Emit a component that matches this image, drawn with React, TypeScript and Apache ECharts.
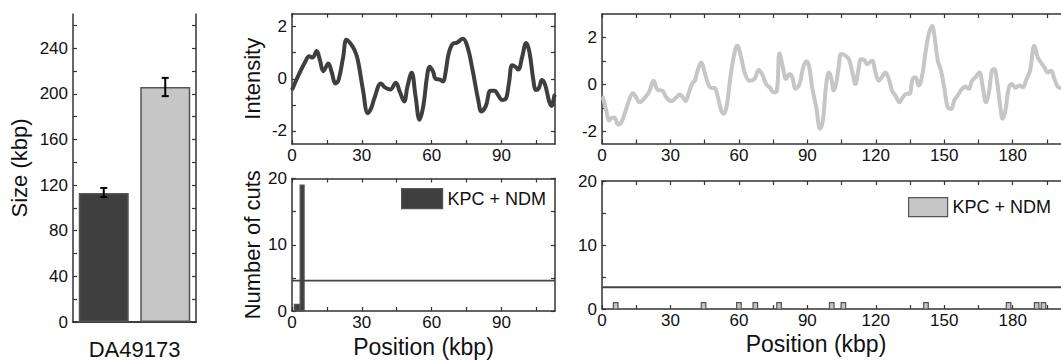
import React, { useEffect, useRef } from "react";
import * as echarts from "echarts";

// ---- data ----
const sizeCategories = ["KPC", "NDM"];
const sizeValues = [113, 206];
const sizeErrLow = [109.5, 198];
const sizeErrHigh = [117.5, 214];

const posA = [0, 2.8, 5.7, 7.4, 8.8, 10.6, 12, 13.5, 15.6, 17, 18.7, 20, 22, 23.4, 25.2, 26.9, 28.3, 30.5, 32.6, 34, 35.4, 38.2, 39.9, 42.2, 44.6, 46.3, 48.2, 49.6, 51.4, 53.1, 54.8, 56.4, 58.1, 59.2, 60.6, 61.6, 63.5, 64.9, 65.9, 67.3, 69.1, 70.8, 73.4, 75.4, 77.6, 80, 81.4, 83.3, 85.3, 87.1, 88.5, 90.4, 91.8, 93.2, 94.6, 96, 97.2, 98.9, 100.6, 102, 103.7, 104.8, 106, 107.4, 108.8, 110.5, 111.6, 112.7, 113];
const intensityA = [-0.43, 0.14, 0.65, 0.86, 0.81, 1.06, 0.71, 0.29, 0.58, 0.27, -0.18, -0.05, 0.84, 1.49, 1.34, 1.09, 0.71, -0.43, -1.32, -1.13, -0.75, -0.18, -0.33, -0.41, -0.15, -0.49, -0.87, -0.3, 0.23, -0.68, -1.57, -1.06, 0.14, 0.46, 0.27, 0.01, -0.03, -0.11, 0.2, 0.96, 1.34, 1.38, 1.53, 1.22, 0.33, -0.81, -1.25, -1.04, -0.46, -0.46, -0.62, -0.81, -0.78, -0.18, 0.52, 0.46, 0.35, 0.84, 1.37, 1.03, -0.05, -0.43, -0.37, -0.05, -0.24, -0.87, -1.04, -0.66, -0.6];

const posB = [0, 0.4, 1.9, 3.1, 4.5, 5.5, 7, 8.5, 9.9, 11.8, 13.6, 15, 16.5, 18.7, 20.6, 22.6, 24.5, 26.4, 28.2, 30.4, 32.6, 34, 35.2, 36.6, 38.1, 39.6, 40.7, 42, 43.5, 45, 46.4, 47.9, 49.3, 50.8, 52.3, 53.4, 54.7, 55.9, 57.4, 59.3, 61, 62.5, 64.7, 66.8, 68.7, 70.5, 71.9, 73.7, 75.2, 76.6, 77.8, 79.3, 80.7, 82.2, 83.4, 84.8, 86.6, 88, 89.5, 90.7, 92.1, 93.9, 95.6, 96.8, 98.3, 99.5, 100.4, 101.6, 102.6, 103.8, 104.8, 106.7, 108.2, 109.6, 111.1, 112.3, 113.6, 115, 116.2, 117.2, 118.4, 119.9, 121.3, 122.8, 124.2, 125.7, 127.1, 128.6, 130.4, 131.8, 133.6, 134.7, 136.2, 137.4, 138.8, 140.3, 141.7, 143.2, 144.7, 145.8, 147.2, 148.6, 150.1, 151.5, 153, 154.5, 155.9, 157.8, 159.3, 160.7, 162.2, 163.9, 165.4, 166.8, 168.3, 169.5, 170.9, 171.9, 173.1, 174.6, 175.6, 176.8, 178.3, 179.7, 181.2, 182.9, 184.4, 186.1, 187.6, 189.5, 191, 192.4, 193.9, 195.3, 196.8, 198.3, 199.7, 200.9, 202.5];
const intensityB = [-0.5, -0.54, -1.1, -1.52, -1.41, -1.41, -1.69, -1.59, -1.24, -0.68, -0.37, -0.54, -0.75, -0.56, -0.32, 0.17, -0.23, -0.25, -0.54, -0.7, -0.54, -0.42, -0.51, -0.7, -0.32, 0.06, 0.17, 0.62, 0.94, 0.52, 0.06, -0.14, -0.14, -0.54, -1.1, -1.24, -0.89, 0.03, 1.01, 1.65, 1.15, 0.52, 0.17, 0.24, 0.62, 0.38, 0.03, -0.14, -0.32, -0.28, 1.32, 0.73, 0.24, 0.45, 0.31, -0.18, 0.03, 0.66, 0.99, 0.8, -0.11, -0.96, -1.87, -1.52, 0.03, 0.52, 0.31, -0.25, 0.03, 0.8, 1.3, 1.23, 1.08, 0.59, 0.03, 0.59, 1.08, 1.04, 0.87, 0.94, 1.01, 0.52, 0.17, 0.34, 0.52, 0.24, -0.25, -0.46, -0.75, -0.54, -0.39, -0.39, 0.24, 0.31, -0.04, 0.38, 1.3, 2.14, 2.49, 2.0, 1.01, 0.59, -0.18, -0.96, -1.03, -0.65, -0.46, -0.18, -0.08, -0.18, 0.17, 0.34, 0.52, -0.04, -0.75, -0.39, 0.59, 0.66, 0.17, -0.96, -1.45, -1.1, -0.14, 0.03, -0.14, -0.04, -0.11, 0.24, 0.59, 1.65, 1.15, 0.94, 0.73, 0.52, 0.59, 0.24, -0.08, -0.14, -0.2];

// histogram bins: start, end, number of cuts
const cutsA = [[1, 3.5, 1], [3.5, 5.2, 19]];
const cutsB = [[5, 7, 1], [43.5, 45.5, 1], [59, 61, 1], [66.2, 68.2, 1], [76.6, 78.6, 1], [99.7, 101.7, 1], [104.8, 106.8, 1], [141, 143, 1], [177.2, 179.2, 1], [189.5, 191.5, 1], [192.5, 194.5, 1]];
const thresholdA = 4.6;
const thresholdB = 3.4;
const maxA = 113;
const maxB = 206;

const xLabelsA = [0, 30, 60, 90];
const xTicksA = [0, 15, 30, 45, 60, 75, 90, 105];
const xLabelsB = [0, 30, 60, 90, 120, 150, 180];
const xTicksB = [0, 15, 30, 45, 60, 75, 90, 105, 120, 135, 150, 165, 180, 195];
const intensityLabels = [-2, 0, 2];
const intensityTicks = [-2, -1, 0, 1, 2];
const cutsLabels = [0, 10, 20];
const cutsTicks = [0, 5, 10, 15, 20];
const sizeLabels = [0, 40, 80, 120, 160, 200, 240];
const sizeTicks = [0, 20, 40, 60, 80, 100, 120, 140, 160, 180, 200, 220, 240, 260];

const DARK = "#3f3f3f";
const LIGHT = "#c6c6c6";
const FRAME = "#333333";
const TEXT = "#111111";
const FONT = "Liberation Sans";

function valueX(grid: number, max: number, ticks: number[], labels: number[] | null, pos: string, name?: string, nameGap?: number, namePad?: number[]) {
  return {
    type: "value",
    gridIndex: grid,
    min: 0,
    max,
    position: pos,
    axisLine: { show: true, onZero: false, lineStyle: { color: FRAME, width: 1.5 } },
    axisTick: { show: true, inside: true, length: 4, customValues: ticks, lineStyle: { color: FRAME, width: 1.2 } },
    axisLabel: labels
      ? { show: true, customValues: labels, fontSize: 17, color: TEXT, margin: 3, fontFamily: FONT }
      : { show: false },
    splitLine: { show: false },
    name: name || "",
    nameLocation: "middle",
    nameGap: nameGap || 0,
    nameTextStyle: { fontSize: 23, color: TEXT, fontFamily: FONT, padding: namePad || 0 },
  };
}

function valueY(grid: number, min: number, max: number, ticks: number[], labels: number[] | null, pos: string, name?: string, nameGap?: number) {
  return {
    type: "value",
    gridIndex: grid,
    min,
    max,
    position: pos,
    axisLine: { show: true, onZero: false, lineStyle: { color: FRAME, width: 1.5 } },
    axisTick: { show: true, inside: true, length: 4, customValues: ticks, lineStyle: { color: FRAME, width: 1.2 } },
    axisLabel: labels
      ? { show: true, customValues: labels, fontSize: 17, color: TEXT, margin: 5, fontFamily: FONT }
      : { show: false },
    splitLine: { show: false },
    name: name || "",
    nameLocation: "middle",
    nameGap: nameGap || 0,
    nameTextStyle: { fontSize: 22, color: TEXT, fontFamily: FONT },
  };
}

function histRender(fill: string) {
  return (params: any, api: any) => {
    const p0 = api.coord([api.value(0), api.value(2)]);
    const p1 = api.coord([api.value(1), 0]);
    return {
      type: "rect",
      shape: { x: p0[0], y: p0[1], width: p1[0] - p0[0], height: p1[1] - p0[1] },
      style: { fill, stroke: "#555555", lineWidth: 1.2 },
    };
  };
}

export default function App() {
  const ref = useRef<HTMLDivElement>(null);
  useEffect(() => {
    document.body.style.margin = "0";
    const chart = echarts.init(ref.current!, null, { renderer: "svg" });
    const g = { outerBoundsMode: "none", containLabel: false };
    const option: any = {
      animation: false,
      backgroundColor: "#ffffff",
      textStyle: { fontFamily: FONT },
      grid: [
        { ...g, left: 73, top: 14, width: 123, height: 308 },
        { ...g, left: 292, top: 13.5, width: 263, height: 130.5 },
        { ...g, left: 602, top: 14, width: 470, height: 129.5 },
        { ...g, left: 292, top: 178.5, width: 263, height: 132.5 },
        { ...g, left: 602, top: 181, width: 470, height: 128 },
      ],
      legend: [
        {
          data: [{ name: "KPC + NDM", icon: "rect", itemStyle: { color: DARK, borderColor: "#555555", borderWidth: 1.2 } }],
          left: 401, top: 188, itemWidth: 41, itemHeight: 20, padding: 0, selectedMode: false,
          textStyle: { fontSize: 18, color: TEXT, fontFamily: FONT },
        },
        {
          data: [{ name: "KPC + NDM", icon: "rect", itemStyle: { color: LIGHT, borderColor: "#555555", borderWidth: 1.2 } }],
          left: 908, top: 197, itemWidth: 39, itemHeight: 19, padding: 0, selectedMode: false,
          textStyle: { fontSize: 18, color: TEXT, fontFamily: FONT },
        },
      ],
      xAxis: [
        {
          type: "category",
          gridIndex: 0,
          data: sizeCategories,
          position: "bottom",
          axisLine: { show: true, lineStyle: { color: FRAME, width: 1.5 } },
          axisTick: { show: true, inside: true, length: 4, alignWithLabel: true, lineStyle: { color: FRAME, width: 1.2 } },
          axisLabel: { show: false },
          name: "DA49173",
          nameLocation: "middle",
          nameGap: 16,
          nameTextStyle: { fontSize: 22, color: TEXT, fontFamily: FONT, verticalAlign: "top" },
        },
        {
          type: "category",
          gridIndex: 0,
          data: sizeCategories,
          position: "top",
          axisLine: { show: true, lineStyle: { color: FRAME, width: 1.5 } },
          axisTick: { show: false },
          axisLabel: { show: false },
        },
        valueX(1, maxA, xTicksA, xLabelsA, "bottom"),
        valueX(1, maxA, xTicksA, null, "top"),
        valueX(2, maxB, xTicksB, xLabelsB, "bottom"),
        valueX(2, maxB, xTicksB, null, "top"),
        valueX(3, maxA, xTicksA, xLabelsA, "bottom", "Position (kbp)", 24),
        valueX(3, maxA, xTicksA, null, "top"),
        valueX(4, maxB, xTicksB, xLabelsB, "bottom", "Position (kbp)", 23, [0, 42, 0, 0]),
        valueX(4, maxB, xTicksB, null, "top"),
      ],
      yAxis: [
        valueY(0, 0, 270, sizeTicks, sizeLabels, "left", "Size (kbp)", 43),
        valueY(0, 0, 270, sizeTicks, null, "right"),
        valueY(1, -2.5, 2.5, intensityTicks, intensityLabels, "left", "Intensity", 29),
        valueY(1, -2.5, 2.5, intensityTicks, null, "right"),
        valueY(2, -2.5, 3, intensityTicks, intensityLabels, "left"),
        valueY(2, -2.5, 3, intensityTicks, null, "right"),
        valueY(3, 0, 20, cutsTicks, cutsLabels, "left", "Number of cuts", 29),
        valueY(3, 0, 20, cutsTicks, null, "right"),
        valueY(4, 0, 20, cutsTicks, cutsLabels, "left"),
        valueY(4, 0, 20, cutsTicks, null, "right"),
      ],
      series: [
        {
          type: "bar",
          xAxisIndex: 0,
          yAxisIndex: 0,
          barWidth: 50,
          data: sizeValues.map((v, i) => ({
            value: v,
            itemStyle: { color: i === 0 ? DARK : LIGHT, borderColor: "#555555", borderWidth: 1.5 },
          })),
        },
        {
          type: "custom",
          xAxisIndex: 0,
          yAxisIndex: 0,
          data: sizeValues.map((_, i) => [i, sizeErrLow[i], sizeErrHigh[i]]),
          renderItem: (params: any, api: any) => {
            const lo = api.coord([api.value(0), api.value(1)]);
            const hi = api.coord([api.value(0), api.value(2)]);
            const w = 3.5;
            const st = { stroke: "#000000", lineWidth: 2 };
            return {
              type: "group",
              children: [
                { type: "line", shape: { x1: lo[0], y1: lo[1], x2: hi[0], y2: hi[1] }, style: st },
                { type: "line", shape: { x1: lo[0] - w, y1: lo[1], x2: lo[0] + w, y2: lo[1] }, style: st },
                { type: "line", shape: { x1: hi[0] - w, y1: hi[1], x2: hi[0] + w, y2: hi[1] }, style: st },
              ],
            };
          },
          encode: { x: 0, y: [1, 2] },
          z: 5,
        },
        {
          type: "line",
          xAxisIndex: 2,
          yAxisIndex: 2,
          data: posA.map((x, i) => [x, intensityA[i]]),
          smooth: 0.4,
          showSymbol: false,
          lineStyle: { color: DARK, width: 4 },
          itemStyle: { color: DARK },
        },
        {
          type: "line",
          xAxisIndex: 4,
          yAxisIndex: 4,
          data: posB.map((x, i) => [x, intensityB[i]]),
          smooth: 0.4,
          showSymbol: false,
          lineStyle: { color: LIGHT, width: 4 },
          itemStyle: { color: LIGHT },
        },
        {
          name: "KPC + NDM",
          type: "custom",
          xAxisIndex: 6,
          yAxisIndex: 6,
          data: cutsA,
          renderItem: histRender(DARK),
          encode: { x: [0, 1], y: 2 },
          itemStyle: { color: DARK },
        },
        {
          type: "line",
          xAxisIndex: 6,
          yAxisIndex: 6,
          data: [[0, thresholdA], [maxA, thresholdA]],
          showSymbol: false,
          lineStyle: { color: "#444444", width: 1.8 },
          itemStyle: { color: "#444444" },
        },
        {
          name: "KPC + NDM",
          type: "custom",
          xAxisIndex: 8,
          yAxisIndex: 8,
          data: cutsB,
          renderItem: histRender(LIGHT),
          encode: { x: [0, 1], y: 2 },
          itemStyle: { color: LIGHT },
        },
        {
          type: "line",
          xAxisIndex: 8,
          yAxisIndex: 8,
          data: [[0, thresholdB], [maxB, thresholdB]],
          showSymbol: false,
          lineStyle: { color: "#444444", width: 1.8 },
          itemStyle: { color: "#444444" },
        },
      ],
    };
    chart.setOption(option);
    return () => chart.dispose();
  }, []);
  return <div ref={ref} style={{ width: 1061, height: 361 }} />;
}
